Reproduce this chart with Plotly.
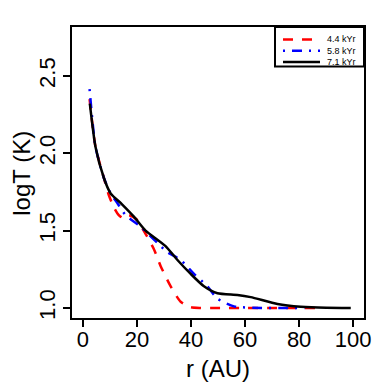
import plotly.graph_objects as go

# radius (AU) and log temperature for each time snapshot
r_44 = [2.5, 4.7, 7.8, 9.6, 11.5, 13.3, 15.0, 17.0, 20.0, 23.5, 26.3, 28.8, 32.5, 36.2, 39.9, 43.6, 50, 60, 70, 80, 88]
t_44 = [2.35, 2.04, 1.84, 1.73, 1.65, 1.60, 1.58, 1.60, 1.57, 1.47, 1.38, 1.27, 1.14, 1.04, 1.005, 1.0, 1.0, 1.0, 1.0, 1.0, 1.0]

r_58 = [2.5, 4.7, 7.8, 10.3, 12.7, 15.8, 21.4, 27.6, 31.3, 36.2, 41.1, 46.1, 49.8, 55.9, 66, 75, 82]
t_58 = [2.415, 2.04, 1.84, 1.74, 1.68, 1.60, 1.525, 1.42, 1.36, 1.31, 1.22, 1.14, 1.06, 1.01, 1.0, 1.0, 1.0]

r_71 = [2.6, 4.7, 7.8, 10.3, 14.5, 18.9, 23.2, 30.6, 35.0, 39.9, 44.8, 49.8, 57.2, 62.1, 72.0, 80.6, 90, 99.1]
t_71 = [2.32, 2.04, 1.84, 1.74, 1.67, 1.59, 1.50, 1.40, 1.31, 1.22, 1.14, 1.095, 1.084, 1.07, 1.026, 1.008, 1.001, 1.0]

labels = ["4.4 kYr", "5.8 kYr", "7.1 kYr"]
colors = ["#ff0000", "#0000ff", "#000000"]
dashes = ["10px,9px", "2px,7px,10px,7px", "solid"]

# the page body has an 8px margin, so the figure is laid out 8px smaller
OFF = 8
W, H = 390 - OFF, 382 - OFF
L, T = 72 - OFF, 27 - OFF
R = W - (364 - OFF)
B = H - (318.5 - OFF)

fig = go.Figure()
for xs, ys, name, c, d in zip([r_44, r_58, r_71], [t_44, t_58, t_71], labels, colors, dashes):
    fig.add_trace(go.Scatter(x=xs, y=ys, mode="lines", name=name, showlegend=False,
                             line=dict(color=c, width=2.5, dash=d, shape="spline", smoothing=0.6)))

# window pixel -> paper coords
pw, ph = W - L - R, H - T - B
def px(x):
    return (x - OFF - L) / pw
def py(y):
    return 1 - (y - OFF - T) / ph

# hand-made legend box in the top-right corner (R style)
shapes = [dict(type="rect", xref="paper", yref="paper", x0=px(275), x1=1, y0=py(66.5), y1=1,
               line=dict(color="black", width=2), fillcolor="white", layer="above")]
annotations = []
for i, (name, c, d) in enumerate(zip(labels, colors, dashes)):
    yy = 39.5 + i * 11.3
    shapes.append(dict(type="line", xref="paper", yref="paper", x0=px(283), x1=px(320),
                       y0=py(yy), y1=py(yy), line=dict(color=c, width=2.5, dash=d), layer="above"))
    annotations.append(dict(text=name, xref="paper", yref="paper", x=px(325), y=py(yy),
                            xanchor="left", yanchor="middle", showarrow=False,
                            font=dict(size=9)))

annotations.append(dict(text="r (AU)", xref="paper", yref="paper", x=0.5, y=py(369),
                        xanchor="center", yanchor="middle", showarrow=False, font=dict(size=24)))
annotations.append(dict(text="logT (K)", xref="paper", yref="paper", x=px(22), y=py(174),
                        xanchor="center", yanchor="middle", showarrow=False, textangle=-90,
                        font=dict(size=24)))

font = "Liberation Sans, Arial, sans-serif"
fig.update_layout(
    width=W, height=H,
    margin=dict(l=L, r=R, t=T, b=B, autoexpand=False),
    paper_bgcolor="white", plot_bgcolor="white",
    font=dict(family=font, size=22, color="black"),
    showlegend=False,
    shapes=shapes, annotations=annotations,
    xaxis=dict(range=[-4, 104], tickvals=[0, 20, 40, 60, 80, 100], automargin=False,
               showline=True, linecolor="black", linewidth=2, mirror=True,
               ticks="outside", ticklen=7, tickwidth=2, tickcolor="black",
               ticklabelstandoff=-6,
               showgrid=False, zeroline=False),
    yaxis=dict(range=[0.935, 2.816], tickvals=[1.0, 1.5, 2.0, 2.5], tickformat=".1f",
               tickangle=-90, automargin=False, ticklabelstandoff=-1,
               showline=True, linecolor="black", linewidth=2, mirror=True,
               ticks="outside", ticklen=7, tickwidth=2, tickcolor="black",
               showgrid=False, zeroline=False),
)

fig.write_html("out.html")
